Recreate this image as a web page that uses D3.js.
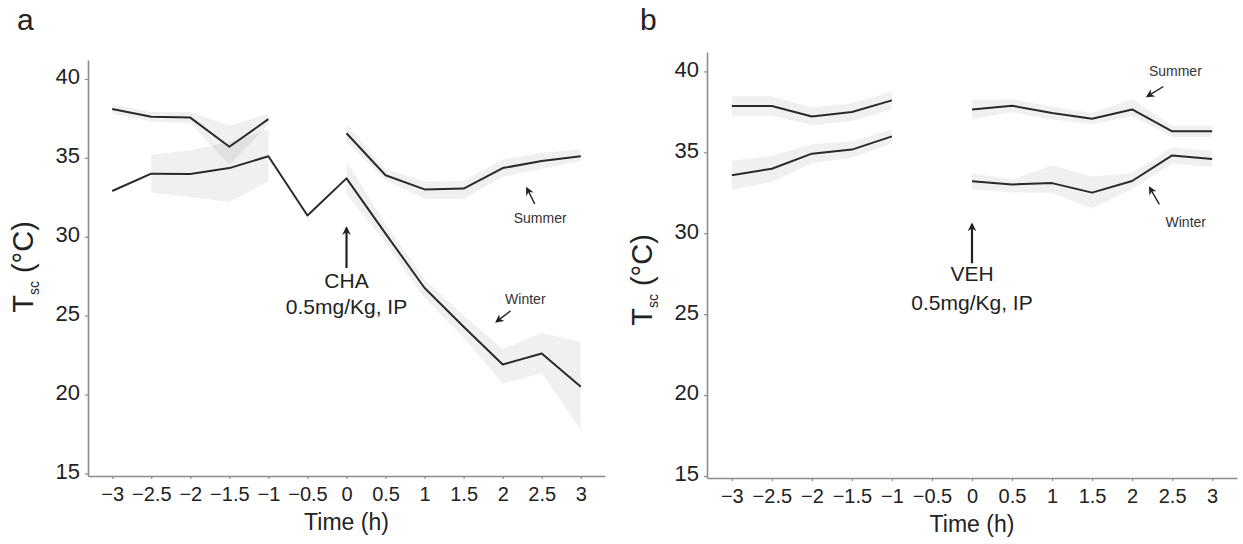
<!DOCTYPE html>
<html>
<head>
<meta charset="utf-8">
<script src="https://cdn.jsdelivr.net/npm/d3@7"></script>
<style>
  body { margin: 0; background: #fff; }
  svg { display: block; font-family: "Liberation Sans", Arial, sans-serif; }
</style>
</head>
<body>
<svg id="chart" width="1243" height="544"></svg>
<script>
// time points (h); null = no sample drawn at that time
const times = [-3, -2.5, -2, -1.5, -1, -0.5, 0, 0.5, 1, 1.5, 2, 2.5, 3];
const yTicks = [15, 20, 25, 30, 35, 40];

// panel a: CHA
const chaSummer   = [38.1, 37.6, 37.55, 35.7, 37.45, null, 36.56, 33.9, 33.0, 33.05, 34.35, 34.8, 35.1];
const chaSummerLo = [37.8, 37.3, 37.2, 34.55, 37.1, null, 36.0, 33.6, 32.4, 32.4, 33.8, 34.3, 34.8];
const chaSummerHi = [38.4, 37.9, 37.9, 37.05, 37.8, null, 37.1, 34.3, 33.5, 33.55, 34.9, 35.3, 35.55];
const chaWinter   = [32.9, 34.0, 33.97, 34.35, 35.1, 31.35, 33.7, 30.2, 26.75, 24.3, 21.9, 22.6, 20.5];
const chaWinterLo = [null, 32.8, 32.5, 32.2, 33.5, null, 32.7, 29.6, 26.1, 23.6, 20.7, 21.35, 17.75];
const chaWinterHi = [null, 35.2, 35.5, 36.0, 36.8, null, 34.8, 30.8, 27.3, 25.0, 22.9, 23.9, 23.35];

// panel b: VEH
const vehSummer   = [37.86, 37.86, 37.22, 37.49, 38.21, null, 37.64, 37.88, 37.43, 37.08, 37.65, 36.3, 36.3];
const vehSummerLo = [37.26, 37.26, 36.67, 36.94, 37.66, null, 37.04, 37.48, 37.03, 36.73, 37.25, 35.95, 35.95];
const vehSummerHi = [38.46, 38.46, 37.77, 38.04, 38.76, null, 38.24, 38.28, 37.83, 37.43, 38.3, 36.65, 36.65];
const vehWinter   = [33.58, 33.99, 34.92, 35.17, 35.99, null, 33.21, 33.02, 33.1, 32.51, 33.23, 34.81, 34.59];
const vehWinterLo = [32.68, 33.19, 34.32, 34.67, 35.54, null, 32.71, 32.52, 32.5, 31.51, 32.73, 34.31, 34.09];
const vehWinterHi = [34.48, 34.79, 35.52, 35.67, 36.44, null, 33.71, 33.32, 34.2, 33.51, 33.73, 35.31, 35.09];

const panels = [
  {
    letter: 'a', drug: 'CHA', dose: '0.5mg/Kg, IP',
    left: 88, right: 605, top: 60, bottom: 476,
    yDomain: [14.84, 41.2],
    series: [
      { mean: chaSummer, lo: chaSummerLo, hi: chaSummerHi },
      { mean: chaWinter, lo: chaWinterLo, hi: chaWinterHi }
    ],
    // annotation anchors in data units
    drugArrow: [30.56, 28.02], drugText: [26.76, 25.1],
    notes: [
      { text: 'Summer', at: [2.48, 30.9], from: [2.41, 32.08], to: [2.31, 33.07] },
      { text: 'Winter', at: [2.29, 25.75], from: [2.10, 25.3], to: [1.92, 24.62] }
    ],
    labelX: 33, labelY: 267, letterX: 17
  },
  {
    letter: 'b', drug: 'VEH', dose: '0.5mg/Kg, IP',
    left: 707, right: 1237, top: 52, bottom: 478,
    yDomain: [14.88, 41.2],
    series: [
      { mean: vehSummer, lo: vehSummerLo, hi: vehSummerHi },
      { mean: vehWinter, lo: vehWinterLo, hi: vehWinterHi }
    ],
    drugArrow: [30.56, 28.15], drugText: [27.04, 25.25],
    notes: [
      { text: 'Summer', at: [2.54, 39.7], from: [2.39, 39.07], to: [2.19, 38.46] },
      { text: 'Winter', at: [2.67, 30.4], from: [2.34, 31.79], to: [2.22, 32.82] }
    ],
    labelX: 652, labelY: 280, letterX: 640
  }
];

const svg = d3.select('#chart');
const defs = svg.append('defs');
defs.append('marker')
  .attr('id', 'bighead').attr('viewBox', '0 0 10 10')
  .attr('refX', 8).attr('refY', 5)
  .attr('markerWidth', 4).attr('markerHeight', 4)
  .attr('markerUnits', 'strokeWidth').attr('orient', 'auto')
  .append('path').attr('d', 'M0,0 L10,5 L0,10 L3,5 Z').attr('fill', '#222');
defs.append('marker')
  .attr('id', 'smallhead').attr('viewBox', '0 0 10 10')
  .attr('refX', 8).attr('refY', 5)
  .attr('markerWidth', 6).attr('markerHeight', 6)
  .attr('markerUnits', 'strokeWidth').attr('orient', 'auto')
  .append('path').attr('d', 'M0,0 L10,5 L0,10 L3,5 Z').attr('fill', '#222');

panels.forEach(p => {
  const g = svg.append('g');

  const x = d3.scaleLinear().domain([-3.31, 3.31]).range([p.left, p.right]);
  const y = d3.scaleLinear().domain(p.yDomain).range([p.bottom, p.top]);

  // error bands
  p.series.forEach(s => {
    const rows = times.map((t, i) => ({ t, lo: s.lo[i], hi: s.hi[i] }));
    const area = d3.area()
      .defined(d => d.lo != null)
      .x(d => x(d.t)).y0(d => y(d.lo)).y1(d => y(d.hi));
    g.append('path')
      .attr('d', area(rows))
      .attr('fill', '#000')
      .attr('fill-opacity', 0.06);
  });

  // mean lines
  p.series.forEach(s => {
    const rows = times.map((t, i) => ({ t, v: s.mean[i] }));
    const line = d3.line()
      .defined(d => d.v != null)
      .x(d => x(d.t)).y(d => y(d.v));
    g.append('path')
      .attr('d', line(rows))
      .attr('fill', 'none')
      .attr('stroke', '#2a2a2a')
      .attr('stroke-width', 2)
      .attr('stroke-linejoin', 'round');
  });

  // axes
  const xAxis = g.append('g')
    .attr('transform', `translate(0,${p.bottom})`)
    .call(d3.axisBottom(x).tickValues(times).tickFormat(d3.format('')).tickSize(3).tickSizeOuter(0).tickPadding(8));
  const yAxis = g.append('g')
    .attr('transform', `translate(${p.left},0)`)
    .call(d3.axisLeft(y).tickValues(yTicks).tickSize(3).tickSizeOuter(0).tickPadding(5));

  [xAxis, yAxis].forEach(a => {
    a.select('.domain').attr('stroke', '#8c8c8c').attr('stroke-width', 1.6);
    a.selectAll('.tick line').attr('stroke', '#8c8c8c').attr('stroke-width', 1.2);
    a.selectAll('.tick text').attr('fill', '#222');
  });
  xAxis.selectAll('.tick text').attr('font-size', 20);
  yAxis.selectAll('.tick text').attr('font-size', 22).attr('dy', '0.22em');

  // axis titles
  g.append('text')
    .attr('x', x(0)).attr('y', p.bottom + 54)
    .attr('text-anchor', 'middle')
    .attr('font-size', 23).attr('fill', '#222')
    .text('Time (h)');

  const yl = g.append('text')
    .attr('transform', `translate(${p.labelX},${p.labelY}) rotate(-90)`)
    .attr('text-anchor', 'middle')
    .attr('font-size', 29).attr('fill', '#222');
  yl.append('tspan').text('T');
  yl.append('tspan').attr('font-size', 14).attr('dy', 6).text('sc');
  yl.append('tspan').attr('dy', -6).text(' (\u00B0C)');

  // panel letter
  g.append('text')
    .attr('x', p.letterX).attr('y', 30)
    .attr('font-size', 30).attr('fill', '#222')
    .text(p.letter);

  // injection arrow + label
  g.append('line')
    .attr('x1', x(0)).attr('x2', x(0))
    .attr('y1', y(p.drugArrow[1])).attr('y2', y(p.drugArrow[0]))
    .attr('stroke', '#222').attr('stroke-width', 2.2)
    .attr('marker-end', 'url(#bighead)');
  g.append('text')
    .attr('x', x(0)).attr('y', y(p.drugText[0]))
    .attr('text-anchor', 'middle').attr('font-size', 21).attr('fill', '#222')
    .text(p.drug);
  g.append('text')
    .attr('x', x(0)).attr('y', y(p.drugText[1]))
    .attr('text-anchor', 'middle').attr('font-size', 21).attr('fill', '#222')
    .text(p.dose);

  // season labels with little arrows
  p.notes.forEach(n => {
    g.append('line')
      .attr('x1', x(n.from[0])).attr('y1', y(n.from[1]))
      .attr('x2', x(n.to[0])).attr('y2', y(n.to[1]))
      .attr('stroke', '#222').attr('stroke-width', 1.4)
      .attr('marker-end', 'url(#smallhead)');
    g.append('text')
      .attr('x', x(n.at[0])).attr('y', y(n.at[1]))
      .attr('text-anchor', 'middle').attr('font-size', 14).attr('fill', '#333')
      .text(n.text);
  });
});
</script>
</body>
</html>
